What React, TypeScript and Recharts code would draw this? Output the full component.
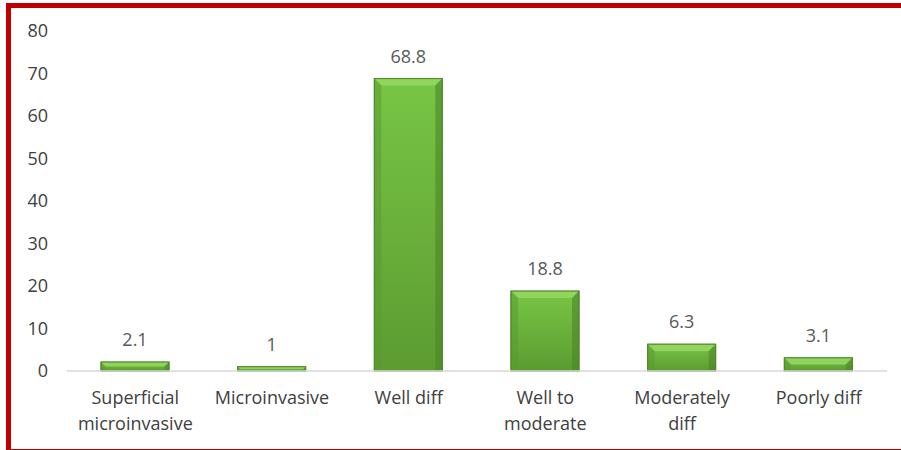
import React from "react";
import { BarChart, Bar, XAxis, YAxis, LabelList } from "recharts";

const categories = [
  "Superficial\nmicroinvasive",
  "Microinvasive",
  "Well diff",
  "Well to\nmoderate",
  "Moderately\ndiff",
  "Poorly diff",
];
const values = [2.1, 1, 68.8, 18.8, 6.3, 3.1];
const yTicks = [0, 10, 20, 30, 40, 50, 60, 70, 80];

const data = categories.map((name, i) => ({ name, value: values[i] }));

const FONT = "'Open Sans', 'Noto Sans', sans-serif";

// multi-line category label
const CategoryTick = ({ x, y, payload }: any) => {
  const lines = String(payload.value).split("\n");
  return (
    <text x={x} y={y} textAnchor="middle" fill="#404040" fontSize={18} fontFamily={FONT}>
      {lines.map((line, i) => (
        <tspan key={i} x={x} dy={i === 0 ? 25 : 26}>
          {line}
        </tspan>
      ))}
    </text>
  );
};

// bevelled green bar
const BevelBar = ({ x, y, width, height }: any) => {
  if (!height || height <= 0) return null;
  const b = Math.min(7, height / 2, width / 2);
  return (
    <g>
      <rect x={x} y={y} width={width} height={height} fill="url(#barGrad)" stroke="#4f8a2b" strokeWidth={1} />
      <polygon
        points={`${x},${y} ${x + width},${y} ${x + width - b},${y + b} ${x + b},${y + b}`}
        fill="#94d662"
        opacity={0.9}
      />
      <polygon
        points={`${x},${y} ${x + b},${y + b} ${x + b},${y + height} ${x},${y + height}`}
        fill="#5a9a32"
        opacity={0.55}
      />
      <polygon
        points={`${x + width},${y} ${x + width - b},${y + b} ${x + width - b},${y + height} ${x + width},${y + height}`}
        fill="#4b8527"
        opacity={0.6}
      />
      <rect x={x} y={y} width={width} height={height} fill="none" stroke="#4f8a2b" strokeWidth={1} />
    </g>
  );
};

export default function App() {
  return (
    <div style={{ position: "absolute", left: 0, top: 0, width: 901, height: 450, overflow: "hidden", background: "#fff" }}>
      <div
        style={{
          position: "absolute",
          left: 6,
          top: 3,
          width: 920,
          height: 441,
          borderLeft: "5px solid #c00000",
          borderTop: "5px solid #c00000",
          borderBottom: "3px solid #c00000",
        }}
      />
      <BarChart
        width={901}
        height={450}
        data={data}
        margin={{ top: 31, right: 14, bottom: 19, left: 0 }}
        style={{ position: "absolute", left: 0, top: 0 }}
      >
        <defs>
          <linearGradient id="barGrad" x1="0" y1="0" x2="0" y2="1">
            <stop offset="0%" stopColor="#78c645" />
            <stop offset="100%" stopColor="#5c9b31" />
          </linearGradient>
        </defs>
        <XAxis
          dataKey="name"
          interval={0}
          height={60}
          axisLine={{ stroke: "#d9d9d9", strokeWidth: 1.5 }}
          tickLine={false}
          tick={<CategoryTick />}
        />
        <YAxis
          width={67}
          domain={[0, 80]}
          ticks={yTicks}
          axisLine={false}
          tickLine={false}
          tickSize={0}
          tickMargin={19}
          tick={{ fill: "#404040", fontSize: 18, fontFamily: FONT }}
        />
        <Bar dataKey="value" barSize={68} shape={<BevelBar />} isAnimationActive={false}>
          <LabelList
            dataKey="value"
            position="top"
            offset={16}
            fill="#595959"
            fontSize={18}
            fontFamily={FONT}
          />
        </Bar>
      </BarChart>
    </div>
  );
}
